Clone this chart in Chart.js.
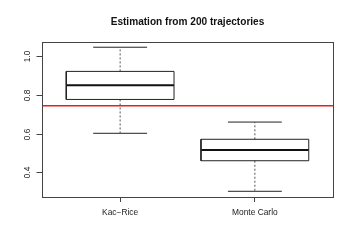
<!DOCTYPE html>
<html>
<head>
<meta charset="utf-8">
<script src="https://cdn.jsdelivr.net/npm/chart.js@4"></script>
<style>
  html, body { margin: 0; padding: 0; background: #fff; }
  canvas { display: block; }
</style>
</head>
<body>
<canvas id="chart" width="354" height="250"></canvas>
<script>
// Boxplot (R style)
const categories = ['Kac\u2212Rice', 'Monte Carlo'];
const whiskerLow = [0.602, 0.302];
const q1 = [0.777, 0.460];
const median = [0.850, 0.515];
const q3 = [0.922, 0.571];
const whiskerHigh = [1.047, 0.660];
const referenceValue = 0.745;
const yTicks = [0.4, 0.6, 0.8, 1.0];
const title = 'Estimation from 200 trajectories';

const BASE_FONT = 'Liberation Sans, Arial, Helvetica, sans-serif';
const INK = '#222';
const BOX_HALF = 0.4;
const CAP_HALF = 0.2;

function seg(x1, y1, x2, y2, extra) {
  return Object.assign({
    data: [{ x: x1, y: y1 }, { x: x2, y: y2 }],
    showLine: true,
    pointRadius: 0,
    borderColor: INK,
    borderWidth: 1,
    fill: false
  }, extra || {});
}

// ── Build datasets ──────────────────────────────────────────────────────────
const datasets = [];
categories.forEach((name, i) => {
  const x = i + 1;
  datasets.push({
    data: [
      { x: x - BOX_HALF, y: q1[i] }, { x: x + BOX_HALF, y: q1[i] },
      { x: x + BOX_HALF, y: q3[i] }, { x: x - BOX_HALF, y: q3[i] },
      { x: x - BOX_HALF, y: q1[i] }
    ],
    showLine: true, pointRadius: 0, borderColor: INK, borderWidth: 1, fill: false
  });
  datasets.push(seg(x - BOX_HALF, median[i], x + BOX_HALF, median[i], { borderWidth: 2, borderColor: '#111' }));
  datasets.push(seg(x, q3[i], x, whiskerHigh[i], { borderDash: [2, 2], borderColor: '#555' }));
  datasets.push(seg(x, q1[i], x, whiskerLow[i], { borderDash: [2, 2], borderColor: '#555' }));
  datasets.push(seg(x - CAP_HALF, whiskerHigh[i], x + CAP_HALF, whiskerHigh[i]));
  datasets.push(seg(x - CAP_HALF, whiskerLow[i], x + CAP_HALF, whiskerLow[i]));
});
datasets.push(seg(0.42, referenceValue, 2.58, referenceValue, { borderColor: '#ee1c1c', borderWidth: 1.5 }));

// ── Plugin: frame box, y tick marks + rotated y labels ──────────────────────
const frameAndLabels = {
  id: 'frameAndLabels',
  afterDraw(chart) {
    const { ctx, chartArea: a } = chart;
    const yScale = chart.scales.y;
    const left = Math.round(a.left) + 0.5;
    ctx.save();
    ctx.strokeStyle = '#444';
    ctx.lineWidth = 1;
    ctx.strokeRect(left, Math.round(a.top) + 0.5,
      Math.round(a.right - a.left), Math.round(a.bottom - a.top));
    ctx.fillStyle = INK;
    ctx.font = '8.4px ' + BASE_FONT;
    ctx.textAlign = 'center';
    ctx.textBaseline = 'middle';
    for (const v of yTicks) {
      const py = Math.round(yScale.getPixelForValue(v)) + 0.5;
      ctx.beginPath();
      ctx.moveTo(left - 6, py);
      ctx.lineTo(left, py);
      ctx.stroke();
      ctx.save();
      ctx.translate(28, py);
      ctx.rotate(-Math.PI / 2);
      ctx.fillText(v.toFixed(1), 0, 0);
      ctx.restore();
    }
    ctx.restore();
  }
};

new Chart(document.getElementById('chart').getContext('2d'), {
  type: 'scatter',
  data: { datasets },
  options: {
    responsive: false,
    animation: false,
    layout: { padding: { left: 0, right: 21, top: 0, bottom: 0 } },
    plugins: {
      legend: { display: false },
      tooltip: { enabled: false },
      title: {
        display: true,
        fullSize: false,
        text: title,
        color: '#111',
        font: { family: BASE_FONT, size: 10.1, weight: 'bold' },
        padding: { top: 16.5, bottom: 13.1 }
      }
    },
    scales: {
      x: {
        type: 'linear',
        min: 0.42,
        max: 2.58,
        afterBuildTicks: s => { s.ticks = categories.map((_, i) => ({ value: i + 1 })); },
        afterFit: s => { s.height = 53; },
        ticks: {
          callback: v => categories[v - 1],
          color: INK,
          font: { family: BASE_FONT, size: 8.4 },
          padding: 6,
          maxRotation: 0
        },
        grid: { drawOnChartArea: false, drawTicks: true, tickLength: 5, color: '#444' },
        border: { display: false }
      },
      y: {
        type: 'linear',
        min: 0.2725,
        max: 1.0755,
        afterBuildTicks: s => { s.ticks = yTicks.map(v => ({ value: v })); },
        afterFit: s => { s.width = 42; },
        ticks: { display: false },
        grid: { display: false },
        border: { display: false }
      }
    }
  },
  plugins: [frameAndLabels]
});
</script>
</body>
</html>
